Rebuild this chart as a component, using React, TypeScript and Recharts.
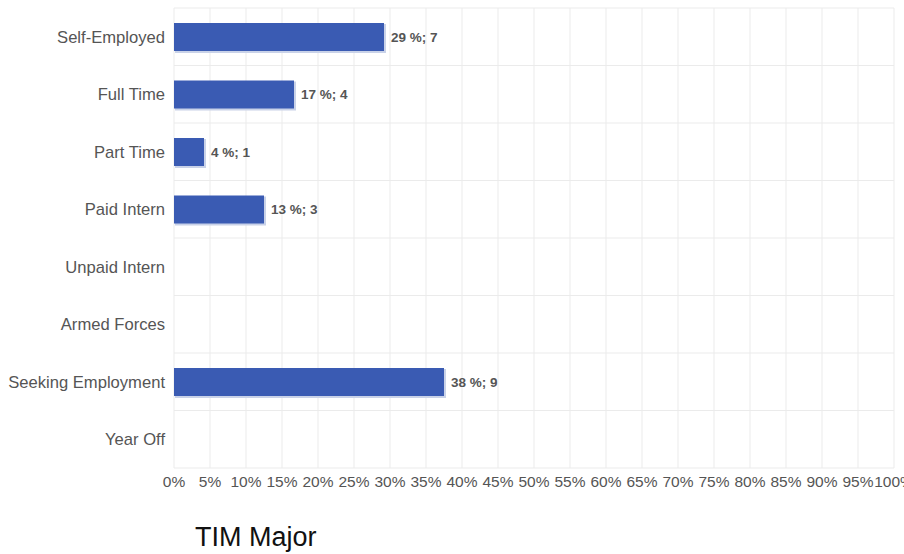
import React from "react";
import { BarChart, Bar, XAxis, YAxis, CartesianGrid, LabelList } from "recharts";

const categories = [
  "Self-Employed",
  "Full Time",
  "Part Time",
  "Paid Intern",
  "Unpaid Intern",
  "Armed Forces",
  "Seeking Employment",
  "Year Off",
];
const counts = [7, 4, 1, 3, 0, 0, 9, 0];
const pctLabels = ["29 %", "17 %", "4 %", "13 %", "", "", "38 %", ""];
const xTicks = [0, 5, 10, 15, 20, 25, 30, 35, 40, 45, 50, 55, 60, 65, 70, 75, 80, 85, 90, 95, 100];

const total = counts.reduce((a, b) => a + b, 0);
const data = categories.map((name, i) => ({
  name,
  count: counts[i],
  pct: (counts[i] / total) * 100,
  label: counts[i] > 0 ? `${pctLabels[i]}; ${counts[i]}` : "",
}));

const ShadowBar = (props: any) => {
  const { x, y, width, height } = props;
  if (!width || width <= 0) return null;
  return (
    <g>
      <rect x={x + 1} y={y + 1} width={width + 1} height={height + 1} fill="#c9d2e8" />
      <rect x={x} y={y} width={width} height={height} fill="#3a5bb3" />
    </g>
  );
};

export default function App() {
  return (
    <div style={{ position: "absolute", left: 0, top: 0, width: 904, height: 554, fontFamily: "Arial, 'Liberation Sans', sans-serif", background: "#fff" }}>
      <BarChart
        width={904}
        height={554}
        data={data}
        layout="vertical"
        margin={{ top: 8, right: 10, left: 0, bottom: 56 }}
      >
        <CartesianGrid
          stroke="#ebebeb"
          horizontalCoordinatesGenerator={({ offset }: any) =>
            categories.map((_, i) => offset.top + (i * offset.height) / categories.length).concat(offset.top + offset.height)
          }
        />
        <XAxis
          type="number"
          domain={[0, 100]}
          ticks={xTicks}
          tickFormatter={(v) => `${v}%`}
          axisLine={false}
          tickLine={false}
          interval={0}
          height={30}
          tick={{ fill: "#555", fontSize: 15.5 }}
        />
        <YAxis
          type="category"
          dataKey="name"
          width={174}
          axisLine={false}
          tickLine={false}
          tickMargin={3}
          interval={0}
          tick={{ fill: "#555", fontSize: 16.6 }}
        />
        <Bar dataKey="pct" barSize={28} shape={ShadowBar} isAnimationActive={false}>
          <LabelList dataKey="label" position="right" offset={7} style={{ fill: "#555", fontSize: 13.5, fontWeight: "bold" }} />
        </Bar>
      </BarChart>
      <div style={{ position: "absolute", left: 195, top: 522, fontSize: 27, lineHeight: "30px", color: "#111" }}>TIM Major</div>
    </div>
  );
}
